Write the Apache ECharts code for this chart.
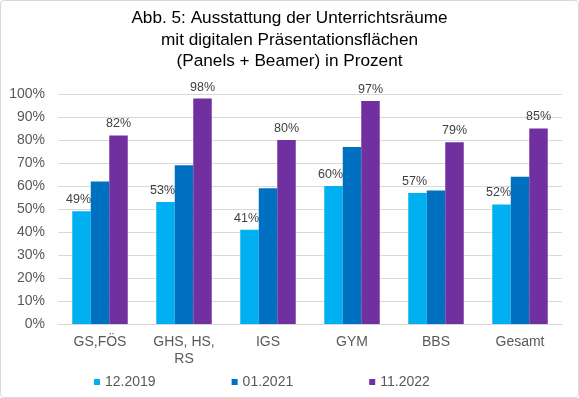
<!DOCTYPE html>
<html><head><meta charset="utf-8">
<script src="https://cdn.jsdelivr.net/npm/echarts@6/dist/echarts.min.js"></script>
<style>html,body{margin:0;padding:0;background:#fff}#c{width:577px;height:396px;border:1px solid #d9d9d9;border-radius:4px}</style>
</head><body><div id="c"></div>
<script>
const categories = ['GS,FÖS', 'GHS, HS,\nRS', 'IGS', 'GYM', 'BBS', 'Gesamt'];
const seriesNames = ['12.2019', '01.2021', '11.2022'];
const s2019 = [49, 53, 41, 60, 57, 52];
const s2021 = [62, 69, 59, 77, 58, 64];
const s2022 = [82, 98, 80, 97, 79, 85];
const yTicks = [0, 10, 20, 30, 40, 50, 60, 70, 80, 90, 100];
const colors = ['#00B0F0', '#0070C0', '#7030A0'];
const font = 'Arial, "Liberation Sans", sans-serif';
const chart = echarts.init(document.getElementById('c'));
const lbl = {show: true, position: 'top', formatter: '{c}%', color: '#404040', fontSize: 12.5, fontFamily: font, distance: 5};
chart.setOption({
  animation: false,
  title: {text: 'Abb. 5: Ausstattung der Unterrichtsräume\nmit digitalen Präsentationsflächen\n(Panels + Beamer) in Prozent', left: 'center', top: 2,
    textStyle: {fontSize: 17.2, fontWeight: 'normal', color: '#000', fontFamily: font, lineHeight: 21.5}},
  legend: {data: seriesNames, left: 88, top: 369, itemWidth: 6, itemHeight: 6, itemGap: 76, icon: 'rect',
    textStyle: {fontSize: 14, color: '#595959', fontFamily: font}},
  grid: {left: 57, right: 16, top: 93, bottom: 73},
  xAxis: {type: 'category', data: categories, axisTick: {show: false},
    axisLine: {lineStyle: {color: '#d9d9d9'}},
    axisLabel: {fontSize: 14, color: '#595959', fontFamily: font, margin: 10, lineHeight: 17, interval: 0}},
  yAxis: {type: 'value', min: 0, max: 100, interval: 10,
    axisLabel: {formatter: v => yTicks.includes(v) ? v + '%' : '', fontSize: 14, color: '#595959', fontFamily: font, margin: 13},
    splitLine: {lineStyle: {color: '#d9d9d9'}}},
  series: [
    {name: seriesNames[0], type: 'bar', data: s2019, itemStyle: {color: colors[0]}, barWidth: 18.5, barGap: '0%', label: Object.assign({}, lbl, {offset: [-3, 0]})},
    {name: seriesNames[1], type: 'bar', data: s2021, itemStyle: {color: colors[1]}, barWidth: 18.5, barGap: '0%'},
    {name: seriesNames[2], type: 'bar', data: s2022, itemStyle: {color: colors[2]}, barWidth: 18.5, barGap: '0%', label: lbl}
  ]
});
</script></body></html>
